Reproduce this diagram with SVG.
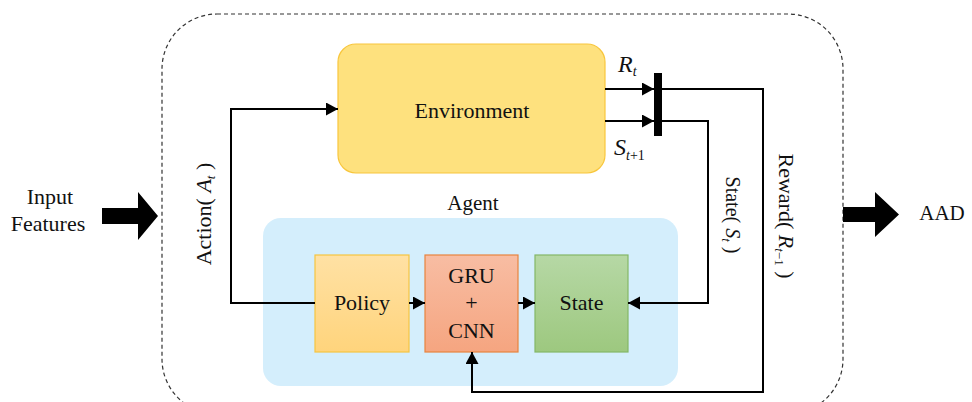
<svg xmlns="http://www.w3.org/2000/svg" width="972" height="402" viewBox="0 0 972 402">
<defs>
<linearGradient id="gPolicy" x1="0" y1="0" x2="0" y2="1"><stop offset="0" stop-color="#ffe1a4"/><stop offset="1" stop-color="#ffd47c"/></linearGradient>
<linearGradient id="gGru" x1="0" y1="0" x2="0" y2="1"><stop offset="0" stop-color="#f8bda3"/><stop offset="1" stop-color="#f5a580"/></linearGradient>
<linearGradient id="gState" x1="0" y1="0" x2="0" y2="1"><stop offset="0" stop-color="#b6d8a5"/><stop offset="1" stop-color="#9dc87f"/></linearGradient>
<marker id="arr" markerUnits="userSpaceOnUse" markerWidth="14" markerHeight="14" refX="12" refY="6.5" orient="auto"><path d="M0,0 L12,6.5 L0,13 Z" fill="#000"/></marker>
</defs>
<style>
text{font-family:"Liberation Serif","Times New Roman",serif;fill:#111}
.t22{font-size:22px}
.conn{fill:none;stroke:#000;stroke-width:2}
</style>
<rect x="162" y="14" width="681" height="400" rx="55" fill="none" stroke="#333" stroke-width="1.2" stroke-dasharray="4 3"/>
<g id="input">
<text class="t22" x="50" y="204" text-anchor="middle">Input</text>
<text class="t22" x="48" y="231" text-anchor="middle">Features</text>
<polygon points="102,208 138,208 138,192 158,216 138,240 138,224 102,224" fill="#000"/>
</g>
<g id="output">
<polygon points="843,207 875,207 875,192 899,214.5 875,237 875,222 843,222" fill="#000"/>
<text x="942" y="220" font-size="21" text-anchor="middle">AAD</text>
</g>
<g id="environment">
<rect x="338" y="44" width="267" height="129" rx="18" fill="#fee17e" stroke="#f8c63c" stroke-width="1.2"/>
<text class="t22" x="472" y="118" text-anchor="middle">Environment</text>
</g>
<g id="agent">
<rect x="263" y="218" width="415" height="168" rx="18" fill="#d4eefc"/>
<text x="473" y="210" font-size="21" text-anchor="middle">Agent</text>
</g>
<g id="policy">
<rect x="315" y="255" width="94" height="97" fill="url(#gPolicy)" stroke="#f5c542" stroke-width="1.2"/>
<text class="t22" x="362" y="310" text-anchor="middle">Policy</text>
</g>
<g id="gru">
<rect x="425" y="255" width="93" height="97" fill="url(#gGru)" stroke="#e8843f" stroke-width="1.2"/>
<text class="t22" x="471.5" y="283" text-anchor="middle">GRU</text>
<text class="t22" x="471.5" y="310" text-anchor="middle">+</text>
<text class="t22" x="471.5" y="338" text-anchor="middle">CNN</text>
</g>
<g id="state">
<rect x="535" y="255" width="93" height="97" fill="url(#gState)" stroke="#84b767" stroke-width="1.2"/>
<text class="t22" x="581.5" y="310" text-anchor="middle">State</text>
</g>
<g id="switch">
<rect x="654" y="73" width="8" height="63" fill="#000"/>
</g>
<g id="connectors">
<path class="conn" d="M315,303 H231 V109 H338" marker-end="url(#arr)"/>
<path class="conn" d="M605,89 H654" marker-end="url(#arr)"/>
<path class="conn" d="M605,121 H654" marker-end="url(#arr)"/>
<path class="conn" d="M662,89 H763 V392 H472 V352" marker-end="url(#arr)"/>
<path class="conn" d="M662,121 H708 V303 H628" marker-end="url(#arr)"/>
<path class="conn" d="M409,303 H425" marker-end="url(#arr)"/>
<path class="conn" d="M518,303 H535" marker-end="url(#arr)"/>
</g>
<g id="labels">
<text x="618" y="72" font-size="24"><tspan font-style="italic">R</tspan><tspan font-size="14" font-style="italic" dy="4">t</tspan></text>
<text x="614" y="155" font-size="24"><tspan font-style="italic">S</tspan><tspan font-size="14" dy="5"><tspan font-style="italic">t</tspan>+1</tspan></text>
<text class="t22" transform="translate(211,214) rotate(-90)" text-anchor="middle">Action( <tspan font-style="italic">A</tspan><tspan font-size="13" font-style="italic" dy="4">t</tspan><tspan dy="-4"> )</tspan></text>
<text font-size="20" transform="translate(726,215) rotate(90)" text-anchor="middle">State( <tspan font-style="italic">S</tspan><tspan font-size="13" font-style="italic" dy="4">t</tspan><tspan dy="-4"> )</tspan></text>
<text class="t22" transform="translate(779,216) rotate(90)" text-anchor="middle">Reward( <tspan font-style="italic">R</tspan><tspan font-size="13" dy="4"><tspan font-style="italic">t</tspan>−1</tspan><tspan dy="-4"> )</tspan></text>
</g>
</svg>
